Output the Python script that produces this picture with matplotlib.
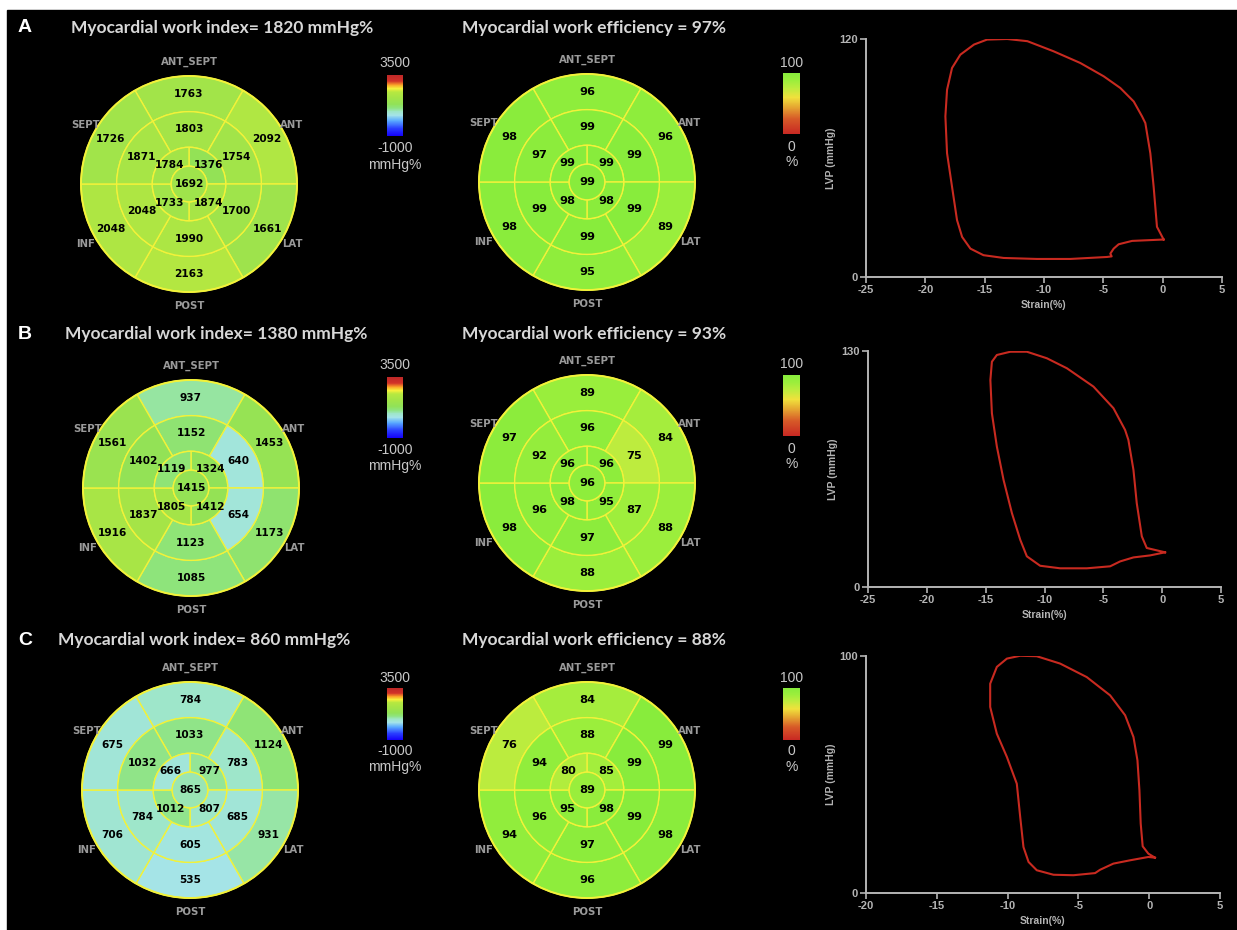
import matplotlib.pyplot as plt
import numpy as np
from matplotlib.patches import Wedge, Circle, Rectangle
from matplotlib.colors import LinearSegmentedColormap, Normalize
from matplotlib.cm import ScalarMappable

W, H = 1237, 930

# ---------------- dados ----------------
letras = ["A", "B", "C"]
indice_global = [1820, 1380, 860]      # mmHg%
eficiencia_global = [97, 93, 88]       # %
regioes = ["ANT_SEPT", "ANT", "LAT", "POST", "INF", "SEPT"]

# basal e medio na ordem de `regioes`; apical: sup-dir, inf-dir, inf-esq, sup-esq
mw_basal = [[1763, 2092, 1661, 2163, 2048, 1726],
            [937, 1453, 1173, 1085, 1916, 1561],
            [784, 1124, 931, 535, 706, 675]]
mw_medio = [[1803, 1754, 1700, 1990, 2048, 1871],
            [1152, 640, 654, 1123, 1837, 1402],
            [1033, 783, 685, 605, 784, 1032]]
mw_apical = [[1376, 1874, 1733, 1784],
             [1324, 1412, 1805, 1119],
             [977, 807, 1012, 666]]
mw_apice = [1692, 1415, 865]

ef_basal = [[96, 96, 89, 95, 98, 98],
            [89, 84, 88, 88, 98, 97],
            [84, 99, 98, 96, 94, 76]]
ef_medio = [[99, 99, 99, 99, 99, 97],
            [96, 75, 87, 97, 96, 92],
            [88, 99, 99, 97, 96, 94]]
ef_apical = [[99, 98, 98, 99],
             [96, 95, 98, 96],
             [85, 98, 95, 80]]
ef_apice = [99, 96, 89]

# curvas pressao-strain
strain_A = [0.08, -0.48, -0.76, -1.04, -1.46, -1.74, -2.44, -3.57, -4.97, -6.94, -9.19, -11.4,
            -13.1, -14.8, -15.9, -17.05, -17.75, -18.17, -18.31, -18.17, -17.75, -17.33, -16.9,
            -16.2, -15.1, -13.4, -10.6, -7.78, -4.69, -4.3, -4.41, -4.13, -3.71, -2.58, 0.08]
lvp_A = [18.9, 25.3, 45.5, 62.4, 77.6, 81, 88.5, 95.3, 101.2, 107.9, 113.8, 118.9,
         120, 119.7, 117.2, 112.1, 105.4, 94.4, 81, 62.4, 45.5, 28.7, 20.2,
         14.3, 11, 9.6, 9.1, 9.1, 10.1, 10.4, 11.8, 14.3, 16.5, 18.2, 18.9]

strain_B = [0.25, -1.31, -1.73, -2.16, -2.44, -2.87, -3.15, -4.14, -5.84, -8.1, -9.8, -11.5,
            -12.9, -14.05, -14.47, -14.6, -14.47, -14.05, -13.48, -12.77, -12.06, -11.5, -10.37,
            -8.67, -6.4, -4.42, -3.57, -2.44, -1.03, 0.25]
lvp_B = [19.1, 21.5, 27.9, 46.2, 64.5, 81, 86.5, 98.5, 110.4, 120.5, 126, 129.6,
         129.6, 127.8, 124.1, 114, 95.7, 77.4, 59, 40.7, 26, 16.9, 11.7,
         10.3, 10.3, 11.4, 14.1, 16.3, 17.4, 19.1]

strain_C = [0.41, -0.06, -0.46, -0.6, -0.69, -0.83, -1.11, -1.7, -2.76, -4.41, -6.29, -7.94,
            -9.11, -10.05, -10.76, -11.23, -11.23, -10.76, -10.05, -9.35, -9.11, -8.88, -8.52,
            -7.94, -6.76, -5.35, -3.82, -3.47, -2.53, -1.35, -0.06, 0.41]
lvp_C = [14.9, 16.6, 19.7, 29.3, 43.3, 56, 65.8, 75, 83.4, 91.1, 96.8, 99.9,
         100.1, 98.9, 95.4, 88.3, 78.5, 67.2, 57.4, 46.1, 32.1, 19.4, 13.1,
         9.6, 7.7, 7.5, 8.4, 9.8, 12.4, 13.8, 15.2, 14.9]

loops = [(strain_A, lvp_A), (strain_B, lvp_B), (strain_C, lvp_C)]
lvp_max = [120, 130, 100]
strain_min = [-25, -25, -20]

# ---------------- cores ----------------
def rgb(*c):
    return tuple(v / 255 for v in c)

cmap_trabalho = LinearSegmentedColormap.from_list("trabalho", [
    (0.00, rgb(20, 0, 250)), (0.12, rgb(40, 60, 255)), (0.25, rgb(90, 170, 255)),
    (0.34, rgb(165, 228, 232)), (0.40, rgb(158, 230, 200)), (0.46, rgb(142, 228, 125)),
    (0.52, rgb(145, 226, 88)), (0.62, rgb(163, 228, 72)), (0.72, rgb(182, 232, 64)),
    (0.78, rgb(245, 240, 60)), (0.84, rgb(250, 160, 40)), (0.90, rgb(210, 50, 40)),
    (1.00, rgb(190, 40, 40))])
cmap_eficiencia = LinearSegmentedColormap.from_list("eficiencia", [
    (0.00, rgb(200, 40, 35)), (0.25, rgb(215, 90, 40)), (0.45, rgb(230, 170, 50)),
    (0.60, rgb(240, 225, 60)), (0.75, rgb(190, 236, 62)), (0.88, rgb(155, 238, 60)),
    (1.00, rgb(135, 236, 60))])
norm_trabalho = Normalize(-1000, 3500)
norm_eficiencia = Normalize(0, 100)

AMARELO = "#f2f23a"
CINZA_TITULO = "#d8d8d8"
CINZA_REGIAO = "#9a9a9a"
CINZA_EIXO = "#b4b4b4"

fig = plt.figure(figsize=(W / 100, H / 100), dpi=100, facecolor="white")
ov = fig.add_axes([0, 0, 1, 1])
ov.set_xlim(0, W)
ov.set_ylim(H, 0)
ov.axis("off")
ov.add_patch(Rectangle((7, 10), W, H, color="black", zorder=0))

R = 108
raios = [0.165 * R, 0.34 * R, 0.67 * R, R]
ang_6 = [90, 30, -30, -90, -150, 150]
ang_4 = [45, -45, -135, 135]


def bullseye(cx, cy, basal, medio, apical, apice, cmap, norm, fonte):
    cor = lambda v: cmap(norm(v))
    pos = lambda r, a: (cx + r * np.cos(np.radians(a)), cy - r * np.sin(np.radians(a)))
    aneis = [(basal, ang_6, 30, raios[2], raios[3]), (medio, ang_6, 30, raios[1], raios[2]),
             (apical, ang_4, 45, raios[0], raios[1])]
    for valores, angs, meia, r_in, r_out in aneis:
        for v, a in zip(valores, angs):
            ov.add_patch(Wedge((cx, cy), r_out, -(a + meia), -(a - meia), width=r_out - r_in,
                               facecolor=cor(v), edgecolor=AMARELO, lw=1.0, zorder=2))
            x, y = pos((r_in + r_out) / 2, a)
            ov.text(x, y, str(v), ha="center", va="center", fontsize=fonte,
                    fontweight="bold", color="black", zorder=4)
    ov.add_patch(Circle((cx, cy), raios[0], facecolor=cor(apice), edgecolor=AMARELO,
                        lw=1.0, zorder=2))
    ov.text(cx, cy, str(apice), ha="center", va="center", fontsize=fonte,
            fontweight="bold", color="black", zorder=4)
    ov.add_patch(Circle((cx, cy), R, facecolor="none", edgecolor=AMARELO, lw=1.4, zorder=3))
    for nome, a in zip(regioes, ang_6):
        r = 122 if nome in ("ANT_SEPT", "POST") else 119
        x, y = pos(r, a)
        ov.text(x, y, nome, ha="center", va="center", fontsize=7.3, fontweight="bold",
                color=CINZA_REGIAO, zorder=5)


def barra(x0, x1, t_sup, y0, y1, t_inf, t_uni, cmap, norm, sup, inf, uni):
    cax = fig.add_axes([x0 / W, 1 - y1 / H, (x1 - x0) / W, (y1 - y0) / H])
    cb = fig.colorbar(ScalarMappable(norm=norm, cmap=cmap), cax=cax)
    cb.outline.set_visible(False)
    cb.set_ticks([])
    xc = (x0 + x1) / 2
    for txt, y in [(sup, t_sup), (inf, t_inf), (uni, t_uni)]:
        ov.text(xc, y, txt, ha="center", va="center", fontsize=10, color="#c8c8c8",
                family="Liberation Sans")


centros_esq = [(189, 184), (191, 488), (190, 790)]
centros_meio = [(587, 182), (587, 483), (587, 790)]
y_titulo = [28, 334, 640]
x_titulo = [71, 65, 58]
barras_mw = [(63, 75, 136, 148, 165), (365, 377, 438, 450, 466), (678, 688, 740, 751, 767)]
barras_ef = [(63, 73, 134, 147, 162), (364, 375, 436, 449, 464), (678, 688, 740, 751, 767)]
eixos_loop = [(866, 39, 1222, 277), (868, 351, 1221, 587), (866, 656, 1220, 893)]

for i in range(3):
    ov.text(18, y_titulo[i], letras[i], ha="left", va="center", fontsize=14,
            fontweight="bold", color="white", family="Liberation Sans")
    ov.text(x_titulo[i], y_titulo[i], f"Myocardial work index= {indice_global[i]} mmHg%",
            ha="left", va="center", fontsize=12.5, fontweight="bold", color=CINZA_TITULO,
            family="Lato")
    ov.text(462, y_titulo[i], f"Myocardial work efficiency = {eficiencia_global[i]}%",
            ha="left", va="center", fontsize=12.5, fontweight="bold", color=CINZA_TITULO,
            family="Lato")

    bullseye(*centros_esq[i], mw_basal[i], mw_medio[i], mw_apical[i], mw_apice[i],
             cmap_trabalho, norm_trabalho, 7.6)
    bullseye(*centros_meio[i], ef_basal[i], ef_medio[i], ef_apical[i], ef_apice[i],
             cmap_eficiencia, norm_eficiencia, 8.2)

    a, b, c, d, e = barras_mw[i]
    barra(387, 403, a, b, c, d, e, cmap_trabalho, norm_trabalho, "3500", "-1000", "mmHg%")
    a, b, c, d, e = barras_ef[i]
    barra(783, 800, a, b, c, d, e, cmap_eficiencia, norm_eficiencia, "100", "0", "%")

    # loop pressao-strain
    l, t, r, bt = eixos_loop[i]
    ax = fig.add_axes([l / W, 1 - bt / H, (r - l) / W, (bt - t) / H])
    ax.set_facecolor("none")
    s, p = loops[i]
    ax.plot(s, p, color="#c82a20", lw=1.5)
    ax.set_xlim(strain_min[i], 5)
    ax.set_ylim(0, lvp_max[i])
    xt = list(range(strain_min[i], 6, 5))
    ax.set_xticks(xt, labels=[str(v) for v in xt], fontweight="bold", fontsize=8,
                  family="Liberation Sans")
    ax.set_yticks([0, lvp_max[i]], labels=["0", str(lvp_max[i])], fontweight="bold",
                  fontsize=8, family="Liberation Sans")
    ax.tick_params(colors=CINZA_EIXO, length=4, width=1.2, pad=2)
    for lado in ["top", "right"]:
        ax.spines[lado].set_visible(False)
    for lado in ["left", "bottom"]:
        ax.spines[lado].set_color(CINZA_EIXO)
        ax.spines[lado].set_linewidth(1.4)
    ax.set_xlabel("Strain(%)", color=CINZA_EIXO, fontsize=7.5, fontweight="bold",
                  family="Liberation Sans", labelpad=3)
    ax.set_ylabel("LVP (mmHg)", color=CINZA_EIXO, fontsize=7.5, fontweight="bold",
                  family="Liberation Sans", labelpad=2)

fig.savefig("out.png", dpi=100, facecolor=fig.get_facecolor())
